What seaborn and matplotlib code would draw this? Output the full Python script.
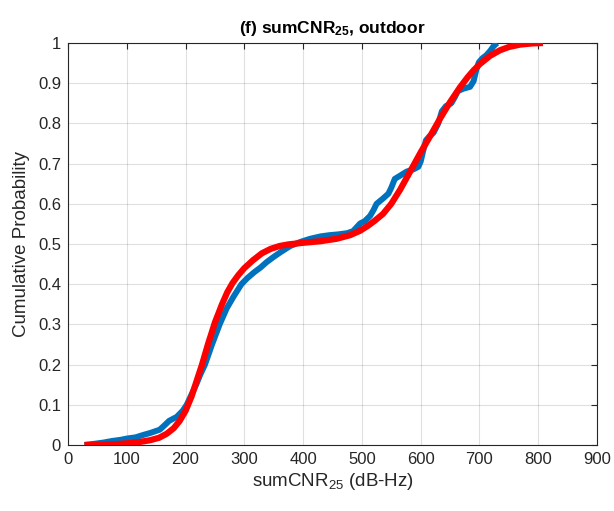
import matplotlib
matplotlib.use("Agg")
import matplotlib.pyplot as plt
import seaborn as sns
import pandas as pd

# Empirical CDF of sumCNR25 (outdoor)
emp_x = [28, 45, 60, 75, 90, 100, 115, 128, 140, 156, 165, 172, 185, 195, 202, 210,
         218, 225, 233, 245, 258, 270, 282, 295, 305, 317, 328, 338, 350, 362, 378,
         395, 412, 430, 445, 460, 475, 485, 490, 497, 505, 514, 520, 525, 535, 545,
         550, 556, 565, 576, 588, 596, 600, 604, 609, 615, 622, 630, 636, 643, 652,
         658, 663, 672, 684, 690, 695, 699, 705, 712, 718, 724, 730]
emp_p = [0, 0.003, 0.006, 0.01, 0.013, 0.016, 0.019, 0.025, 0.03, 0.038, 0.05, 0.06,
         0.07, 0.085, 0.1, 0.125, 0.15, 0.175, 0.2, 0.25, 0.3, 0.34, 0.37, 0.4, 0.415,
         0.43, 0.442, 0.455, 0.468, 0.48, 0.495, 0.505, 0.513, 0.519, 0.522, 0.524,
         0.527, 0.532, 0.54, 0.551, 0.557, 0.57, 0.585, 0.6, 0.612, 0.625, 0.64, 0.662,
         0.67, 0.68, 0.686, 0.692, 0.705, 0.73, 0.758, 0.768, 0.777, 0.8, 0.83, 0.843,
         0.85, 0.865, 0.88, 0.886, 0.891, 0.905, 0.935, 0.952, 0.962, 0.97, 0.98,
         0.992, 1.0]

# Fitted CDF
fit_x = [28, 50, 80, 100, 120, 140, 155, 168, 180, 190, 200, 210, 219, 228, 238, 250,
         262, 271, 280, 290, 300, 315, 330, 345, 360, 375, 400, 430, 457, 480, 497,
         510, 522, 536, 550, 565, 582, 600, 616, 633, 650, 667, 680, 690, 701, 718,
         735, 750, 769, 790, 808]
fit_p = [0, 0.0005, 0.002, 0.004, 0.007, 0.012, 0.018, 0.028, 0.042, 0.06, 0.085,
         0.12, 0.16, 0.2, 0.25, 0.305, 0.35, 0.38, 0.403, 0.423, 0.44, 0.46, 0.477,
         0.488, 0.495, 0.499, 0.503, 0.507, 0.513, 0.522, 0.533, 0.545, 0.558, 0.575,
         0.6, 0.635, 0.68, 0.728, 0.768, 0.812, 0.853, 0.89, 0.915, 0.932, 0.948,
         0.968, 0.982, 0.99, 0.996, 0.999, 1.0]

x_ticks = [0, 100, 200, 300, 400, 500, 600, 700, 800, 900]
y_ticks = [0, 0.1, 0.2, 0.3, 0.4, 0.5, 0.6, 0.7, 0.8, 0.9, 1]
y_tick_labels = ["0", "0.1", "0.2", "0.3", "0.4", "0.5", "0.6", "0.7", "0.8", "0.9", "1"]

sns.set_theme(style="white")
plt.rcParams["font.family"] = ["Liberation Sans", "DejaVu Sans"]
plt.rcParams["mathtext.fontset"] = "custom"
plt.rcParams["mathtext.rm"] = "Liberation Sans"
plt.rcParams["mathtext.it"] = "Liberation Sans"
plt.rcParams["mathtext.bf"] = "Liberation Sans:bold"
plt.rcParams["mathtext.default"] = "regular"

emp = pd.DataFrame({"x": emp_x, "p": emp_p})
fit = pd.DataFrame({"x": fit_x, "p": fit_p})

fig = plt.figure(figsize=(6.14, 5.11), dpi=100)
ax = fig.add_axes([68 / 614, 1 - 445 / 511, (597 - 68) / 614, (445 - 43) / 511])

sns.lineplot(data=emp, x="x", y="p", sort=False, color="#0072BD", linewidth=4.3,
             ax=ax, solid_capstyle="butt", solid_joinstyle="round", zorder=3)
sns.lineplot(data=fit, x="x", y="p", sort=False, color="#FF0000", linewidth=4.5,
             ax=ax, solid_capstyle="butt", solid_joinstyle="round", zorder=4)

ax.set_xlim(0, 900)
ax.set_ylim(0, 1)
ax.set_xticks(x_ticks)
ax.set_yticks(y_ticks)
ax.set_yticklabels(y_tick_labels)
ax.grid(True, color="#000000", alpha=0.12, linewidth=0.8)
ax.set_axisbelow(True)

dark = "#262626"
for s in ax.spines.values():
    s.set_color(dark)
    s.set_linewidth(0.8)
ax.tick_params(direction="in", length=4, width=0.8, colors=dark, labelsize=12,
               top=True, right=True, labelcolor=dark, pad=5)

ax.set_xlabel("sumCNR$_{25}$ (dB-Hz)", fontsize=13.5, color=dark, labelpad=3)
ax.set_ylabel("Cumulative Probability", fontsize=13.5, color=dark, labelpad=6)
ax.set_title(r"(f) sumCNR$_{\mathbf{25}}$, outdoor", fontsize=12.5, fontweight="bold",
             color="#000000", pad=7)

fig.savefig("out.png", dpi=100)
